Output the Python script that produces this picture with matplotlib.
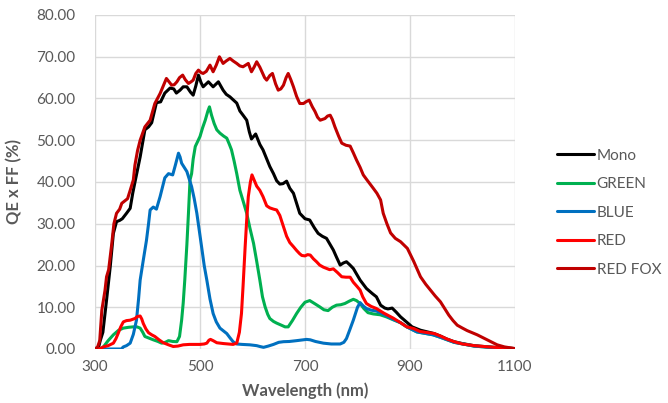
import matplotlib
matplotlib.use("Agg")
import matplotlib.pyplot as plt

plt.rcParams['font.family'] = ['Lato', 'DejaVu Sans']

# wavelength (nm) / QE x FF (%)
mono_wl = [300, 306, 310, 315, 322, 329, 335, 341, 347, 352, 360, 367, 372, 377, 386, 395, 402, 408, 417, 425,
           433, 443, 450, 455, 462, 468, 475, 482, 487, 492, 497, 502, 506, 516, 525, 535, 544, 550, 557, 570,
           576, 582, 589, 594, 598, 606, 614, 620, 633, 640, 646, 652, 658, 665, 671, 678, 690, 700, 709, 718,
           725, 733, 741, 754, 760, 767, 773, 779, 785, 792, 805, 817, 828, 836, 844, 852, 858, 866, 874, 882,
           894, 904, 920, 946, 958, 970, 984, 1000, 1022, 1050, 1073, 1100]
mono_qe = [0, 0, 2, 4, 11.7, 19.7, 27.7, 30.5, 30.8, 31.2, 32.5, 33.7, 37.4, 40.5, 46, 52.5, 53.2, 54.2, 59, 59.2,
           61.3, 62.5, 62.3, 61.3, 62, 62.8, 62.8, 61.5, 60.8, 63, 65.6, 63.8, 62.8, 64, 62.8, 64, 62, 61, 60.4, 58.9,
           57, 56, 54.8, 52, 50.3, 51.5, 49, 47.7, 43.7, 42, 40.3, 39.5, 39.6, 40.2, 38.5, 37.3, 32.5, 31.2, 30.9, 29,
           27.7, 27, 26.5, 23.7, 22, 20.1, 20.6, 20.9, 20.2, 19.3, 16.5, 14.5, 13.3, 12.5, 10.5, 9.8, 9.6, 9.8, 8.8, 7.7,
           6.4, 5.3, 4.5, 3.7, 3.1, 2.4, 1.75, 1.3, 0.8, 0.5, 0.3, 0.1]

green_wl = [300, 310, 316, 325, 335, 345, 354, 364, 373, 380, 386, 391, 395, 403, 411, 420, 427, 434, 440, 448,
            456, 461, 465, 468, 471, 475, 478, 481, 484, 487, 491, 500, 505, 510, 515, 518, 522, 527, 532, 538,
            545, 551, 556, 560, 565, 570, 576, 582, 589, 595, 602, 608, 614, 619, 624, 629, 633, 640, 646, 655,
            662, 668, 676, 684, 692, 700, 709, 718, 728, 736, 744, 752, 760, 768, 776, 785, 792, 798, 805, 812,
            820, 830, 843, 855, 868, 882, 894, 913, 944, 958, 984, 1022, 1073, 1100]
green_qe = [0, 0, 0.5, 2, 3.4, 4.5, 5, 5.2, 5.3, 5.3, 5, 4, 3, 2.6, 2.2, 1.8, 1.4, 1.6, 2.0, 1.8,
            1.75, 3, 6.9, 11, 16.5, 25, 32.5, 40.5, 42, 45.5, 48.5, 50.9, 53, 54.8, 57, 58, 56, 54, 52.5, 51.7,
            51, 50.5, 49, 47.7, 45, 42, 38, 35.5, 32.5, 29, 25.3, 21, 16.5, 12.5, 10.1, 8.3, 7.3, 6.6, 6.2, 5.7,
            5.3, 5.3, 6.8, 8.5, 10, 11.2, 11.6, 10.9, 10.1, 9.4, 9.2, 10, 10.5, 10.6, 10.9, 11.5, 11.9, 11.6, 10.9, 9.7,
            8.7, 8.4, 8.2, 7.7, 7.0, 6.3, 5.3, 4.1, 3.4, 2.8, 1.6, 0.7, 0.2, 0.1]

blue_wl = [300, 350, 354, 360, 367, 373, 379, 383, 386, 392, 398, 402, 405, 411, 417, 424, 433, 440, 448, 453,
           459, 462, 465, 470, 475, 480, 484, 489, 494, 503, 508, 513, 519, 525, 531, 538, 545, 551, 557, 563,
           570, 580, 595, 608, 614, 621, 630, 640, 650, 659, 670, 684, 703, 710, 720, 735, 750, 767, 774, 779,
           785, 792, 800, 805, 811, 817, 826, 836, 850, 868, 882, 894, 913, 944, 958, 984, 1022, 1073, 1100]
blue_qe = [0, 0, 0.5, 0.8, 1.4, 3.5, 6.9, 12, 16.5, 21.3, 26, 30, 33.3, 34, 33.5, 36.5, 41, 42, 41.7, 44,
           46.9, 46, 44.5, 43.5, 42.5, 40.5, 38.9, 36, 32.5, 24.5, 20, 16.5, 12, 8.5, 6.5, 5, 4.3, 3.7, 2.7, 1.75,
           1.2, 1.1, 1.0, 0.8, 0.6, 0.4, 0.7, 1.1, 1.6, 1.75, 1.8, 2.0, 2.3, 2.2, 1.8, 1.4, 1.2, 1.2, 1.6, 2.5,
           4.5, 6.9, 10, 11.1, 10.3, 9.7, 9.3, 9.1, 8.3, 7.1, 6.3, 5.3, 4.1, 3.4, 2.8, 1.6, 0.7, 0.2, 0.1]

red_wl = [300, 310, 316, 325, 335, 340, 344, 349, 354, 360, 367, 376, 381, 386, 389, 392, 397, 402, 408, 414,
          422, 430, 440, 449, 458, 468, 480, 500, 508, 513, 517, 520, 525, 532, 545, 563, 570, 575, 579, 582,
          586, 589, 592, 596, 599, 603, 608, 614, 620, 627, 633, 640, 646, 652, 659, 665, 671, 678, 684, 690,
          694, 700, 705, 710, 716, 722, 728, 735, 741, 747, 754, 762, 770, 778, 786, 792, 799, 805, 810, 817,
          826, 836, 850, 868, 882, 894, 907, 919, 946, 958, 970, 984, 1000, 1022, 1050, 1073, 1100]
red_qe = [0, 0.1, 0.5, 0.8, 1.4, 2.5, 3.7, 5.3, 6.5, 6.8, 6.9, 7.3, 7.8, 7.9, 7.2, 6.1, 4.8, 3.9, 3.4, 3.0,
          2.2, 1.5, 1.0, 0.6, 0.7, 1.0, 1.1, 1.1, 1.2, 1.4, 2.1, 2.3, 2.0, 1.5, 1.3, 1.1, 1.4, 4, 8.5, 15,
          24.5, 31, 36.5, 40, 41.7, 40.5, 39, 38, 36.5, 34.3, 33.8, 33.5, 33.3, 32, 29.3, 27, 25.5, 24.5, 23.6, 22.8,
          22.4, 22.3, 22.6, 22.5, 21.6, 20.9, 20.1, 19.6, 19.3, 19, 19.2, 18.3, 17.3, 17.2, 17.2, 16, 15, 14.1, 12.5, 10.9,
          10.2, 9.7, 8.6, 7.4, 6.3, 5.3, 4.9, 4.2, 3.7, 3.1, 2.4, 1.75, 1.2, 0.8, 0.5, 0.3, 0.1]

fox_wl = [300, 305, 309, 313, 319, 322, 326, 332, 336, 341, 347, 351, 357, 362, 367, 373, 376, 381, 386, 395,
          405, 414, 424, 430, 436, 441, 446, 451, 456, 461, 467, 472, 478, 483, 487, 492, 497, 502, 506, 512,
          519, 525, 531, 537, 544, 550, 557, 563, 570, 576, 582, 587, 592, 598, 603, 608, 614, 618, 623, 627,
          633, 638, 644, 649, 654, 659, 664, 668, 673, 678, 684, 690, 697, 703, 708, 714, 719, 724, 729, 738,
          743, 748, 752, 757, 764, 770, 778, 786, 792, 798, 805, 811, 818, 830, 837, 844, 849, 856, 863, 872,
          882, 895, 907, 920, 930, 939, 948, 958, 966, 974, 982, 990, 1000, 1009, 1028, 1047, 1066, 1080, 1100]
fox_qe = [0, 0.5, 2, 9.3, 14, 17.3, 19, 25.3, 30, 32.5, 33.5, 34.9, 35.5, 36, 38, 40.5, 44, 47.5, 50, 53.2,
          54.8, 58.8, 61.2, 63, 64.8, 64, 63.2, 63.3, 64, 65, 65.6, 64.5, 63.6, 64, 64.4, 66, 66.8, 66.2, 66, 66.5,
          68, 66.4, 68, 70, 68.4, 69, 69.6, 69, 68.4, 67.8, 67.6, 68, 68.4, 66.4, 67.5, 68.8, 67.5, 66.4, 65, 64.4,
          65.5, 66, 63.5, 62, 62.3, 63.2, 65, 66, 64.5, 62.8, 60.5, 58.8, 58.8, 59.3, 59.6, 58, 56.9, 55.5, 54.8, 55.2,
          55.8, 56, 55, 53.2, 51, 49.3, 48.8, 48.6, 47, 45.3, 43.5, 41.7, 40.5, 38.5, 37.3, 35.7, 32.5, 30, 27.8, 26.5,
          25.7, 24.1, 21, 17.3, 15.5, 14.1, 12.7, 11.3, 9.7, 8.1, 6.8, 5.7, 5, 4.4, 3.4, 2.2, 1.0, 0.5, 0.1]

series = [
    ('Mono', mono_wl, mono_qe, '#000000'),
    ('GREEN', green_wl, green_qe, '#00b050'),
    ('BLUE', blue_wl, blue_qe, '#0070c0'),
    ('RED', red_wl, red_qe, '#ff0000'),
    ('RED FOX', fox_wl, fox_qe, '#c00000'),
]

fig = plt.figure(figsize=(6.68, 4.03), dpi=100)
ax = fig.add_axes([95 / 668, 1 - 349 / 403, 420 / 668, 334 / 403])

for name, wl, qe, col in series:
    ax.plot(wl, qe, color=col, lw=2.2, label=name, solid_joinstyle='round', solid_capstyle='round')

ax.set_xlim(300, 1100)
ax.set_ylim(0, 80)
ax.set_xticks([300, 500, 700, 900, 1100])
ax.set_yticks(range(0, 81, 10))
ax.set_yticklabels(['%.2f' % v for v in range(0, 81, 10)])
ax.grid(True, color='#d9d9d9', lw=1)
ax.set_axisbelow(True)
for s in ax.spines.values():
    s.set_visible(False)
ax.tick_params(length=0, colors='#595959', labelsize=11)
ax.tick_params(axis='y', pad=14)
ax.tick_params(axis='x', pad=8)

ax.set_xlabel('Wavelength (nm)', fontsize=12, fontweight='bold', color='#595959', labelpad=6)
ax.set_ylabel('QE x FF (%)', fontsize=12, fontweight='bold', color='#595959', labelpad=10)

leg = ax.legend(loc='upper left', bbox_to_anchor=(1.1, 0.6), frameon=False, fontsize=11,
                handlelength=2.4, handletextpad=0.2, labelspacing=0.95, borderaxespad=0, borderpad=0)
for t in leg.get_texts():
    t.set_color('#595959')

fig.savefig('out.png', dpi=100)
